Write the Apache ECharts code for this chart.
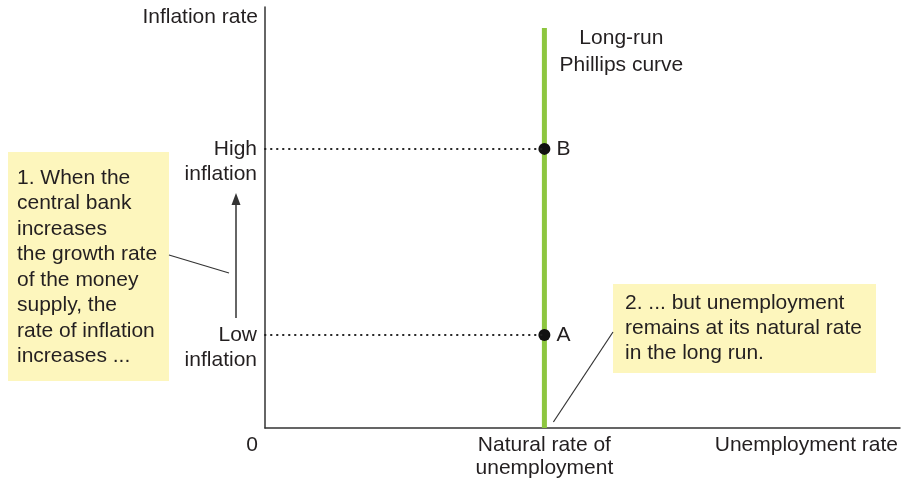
<!DOCTYPE html>
<html>
<head>
<meta charset="utf-8">
<script src="https://cdn.jsdelivr.net/npm/echarts@6/dist/echarts.min.js"></script>
<style>
  html, body { margin: 0; padding: 0; background: #fff; }
  #main { width: 912px; height: 484px; }
</style>
</head>
<body>
<div id="main"></div>
<script>
// data (both axes scaled 0-100)
const unempTicks = [0, 44];
const unempLabels = ['0', 'Natural rate of\nunemployment'];
const inflTicks = [22.1, 66.3];
const inflLabels = ['Low\ninflation', 'High\ninflation'];
const lrpcX = [44, 44];
const lrpcY = [0, 95];
const pointNames = ['A', 'B'];
const pointX = [44, 44];
const pointY = [22.1, 66.3];

const FONT = '"Liberation Sans", Arial, sans-serif';
const FS = 21;
const INK = '#231f20';
const BOX = '#fdf6bd';

const chart = echarts.init(document.getElementById('main'));

const option = {
  animation: false,
  textStyle: { fontFamily: FONT, color: INK },
  grid: { left: 265, right: 12, top: 7, bottom: 56 },
  xAxis: {
    type: 'value',
    min: 0,
    max: 100,
    name: 'Unemployment rate',
    nameLocation: 'end',
    nameGap: 0,
    nameTextStyle: {
      fontFamily: FONT, fontSize: FS, color: INK,
      align: 'right', verticalAlign: 'top', padding: [7, 2, 0, 0]
    },
    axisLine: { lineStyle: { color: '#333', width: 1.5 } },
    axisTick: { show: false },
    splitLine: { show: false },
    axisLabel: {
      customValues: unempTicks,
      margin: 6,
      fontFamily: FONT,
      fontSize: FS,
      lineHeight: 23,
      color: INK,
      formatter: function (v) {
        const i = unempTicks.indexOf(v);
        if (i === 0) return '{z|' + unempLabels[0] + '}';
        return unempLabels[i];
      },
      rich: {
        z: { fontFamily: FONT, fontSize: FS, color: INK, padding: [0, 26, 0, 0] }
      }
    }
  },
  yAxis: {
    type: 'value',
    min: 0,
    max: 100,
    name: 'Inflation rate',
    nameLocation: 'end',
    nameGap: 0,
    nameTextStyle: {
      fontFamily: FONT, fontSize: FS, color: INK,
      align: 'right', verticalAlign: 'top', padding: [0, 7, 0, 0]
    },
    axisLine: { lineStyle: { color: '#333', width: 1.5 } },
    axisTick: { show: false },
    splitLine: { show: false },
    axisLabel: {
      customValues: inflTicks,
      margin: 8,
      fontFamily: FONT,
      fontSize: FS,
      lineHeight: 25,
      color: INK,
      verticalAlign: 'middle',
      // blank first line so the top line of text sits on the tick
      formatter: function (v) {
        return ' \n' + inflLabels[inflTicks.indexOf(v)];
      }
    }
  },
  series: [
    {
      name: 'Long-run Phillips curve',
      type: 'line',
      symbol: 'none',
      data: lrpcX.map((x, i) => [x, lrpcY[i]]),
      lineStyle: { color: '#8dc63f', width: 5 },
      z: 2
    },
    {
      name: 'points',
      type: 'scatter',
      symbolSize: 12,
      itemStyle: { color: '#111', opacity: 1 },
      data: pointX.map((x, i) => ({ value: [x, pointY[i]], name: pointNames[i] })),
      label: {
        show: true,
        position: 'right',
        distance: 6,
        formatter: '{b}',
        fontFamily: FONT,
        fontSize: FS,
        color: INK
      },
      markLine: {
        silent: true,
        symbol: 'none',
        label: { show: false },
        lineStyle: { color: '#222', width: 2, type: [0.5, 5.5], cap: 'round' },
        data: pointY.map((y, i) => [{ coord: [0, y] }, { coord: [pointX[i], y] }])
      },
      z: 3
    }
  ]
};

chart.setOption(option);

// annotations placed from the axis scales
const lrpcTop = chart.convertToPixel({ gridIndex: 0 }, [lrpcX[1], lrpcY[1]]);
const lowPx = chart.convertToPixel({ gridIndex: 0 }, [0, pointY[0]]);
const highPx = chart.convertToPixel({ gridIndex: 0 }, [0, pointY[1]]);
const basePx = chart.convertToPixel({ gridIndex: 0 }, [lrpcX[0], 0]);
const arrowX = lowPx[0] - 29;

chart.setOption({
  graphic: [
    {
      type: 'text',
      x: lrpcTop[0] + 77, y: lrpcTop[1] - 3,
      style: {
        text: 'Long-run\nPhillips curve',
        font: FS + 'px ' + FONT, fill: INK,
        align: 'center', lineHeight: 27
      }
    },
    // arrow from low to high inflation
    {
      type: 'line',
      shape: { x1: arrowX, y1: lowPx[1] - 17, x2: arrowX, y2: highPx[1] + 52 },
      style: { stroke: '#333', lineWidth: 1.5 }
    },
    {
      type: 'polygon',
      shape: { points: [[arrowX, highPx[1] + 44], [arrowX - 4.5, highPx[1] + 56], [arrowX + 4.5, highPx[1] + 56]] },
      style: { fill: '#333' }
    },
    // box 1
    {
      type: 'rect',
      shape: { x: 8, y: 152, width: 161, height: 229 },
      style: { fill: BOX }
    },
    {
      type: 'text',
      x: 17, y: 165,
      style: {
        text: '1. When the\ncentral bank\nincreases\nthe growth rate\nof the money\nsupply, the\nrate of inflation\nincreases ...',
        font: FS + 'px ' + FONT, fill: INK, lineHeight: 25.5
      }
    },
    {
      type: 'line',
      shape: { x1: 169, y1: 255, x2: 229, y2: 273 },
      style: { stroke: '#333', lineWidth: 1.2 }
    },
    // box 2
    {
      type: 'rect',
      shape: { x: 613, y: 284, width: 263, height: 89 },
      style: { fill: BOX }
    },
    {
      type: 'text',
      x: 625, y: 291,
      style: {
        text: '2. ... but unemployment\nremains at its natural rate\nin the long run.',
        font: FS + 'px ' + FONT, fill: INK, lineHeight: 25
      }
    },
    {
      type: 'line',
      shape: { x1: 613, y1: 332, x2: basePx[0] + 9, y2: basePx[1] - 6 },
      style: { stroke: '#333', lineWidth: 1.2 }
    }
  ]
});
</script>
</body>
</html>
